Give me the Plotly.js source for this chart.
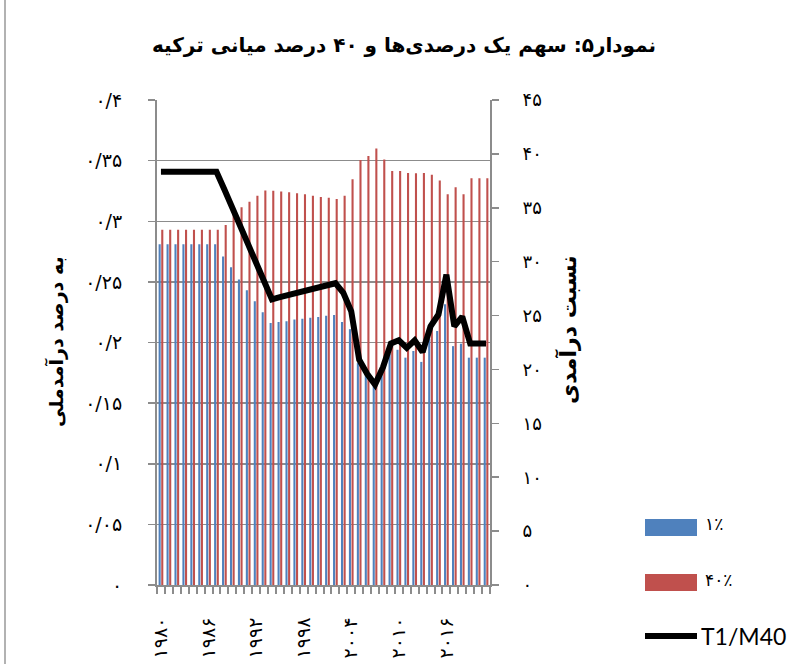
<!DOCTYPE html>
<html>
<head>
<meta charset="utf-8">
<script src="https://cdn.plot.ly/plotly-3.0.1.min.js"></script>
<style>html,body{margin:0;padding:0;background:#fff;}</style>
</head>
<body>
<div id="chart" style="width:793px;height:664px;"></div>
<script>
// Years (categories)
var years = [1980,1981,1982,1983,1984,1985,1986,1987,1988,1989,1990,1991,1992,1993,1994,1995,1996,1997,1998,1999,2000,2001,2002,2003,2004,2005,2006,2007,2008,2009,2010,2011,2012,2013,2014,2015,2016,2017,2018,2019,2020,2021];

// Share of top 1% (left axis)
var top1 = [0.281,0.281,0.281,0.281,0.281,0.281,0.281,0.281,0.271,0.262,0.252,0.243,0.234,0.225,0.216,0.217,0.2175,0.219,0.2196,0.2205,0.221,0.222,0.2227,0.217,0.211,0.183,0.173,0.167,0.177,0.191,0.194,0.1875,0.193,0.184,0.203,0.2095,0.2315,0.197,0.199,0.1875,0.1875,0.1875];

// Share of middle 40% (left axis)
var mid40 = [0.293,0.293,0.293,0.293,0.293,0.293,0.293,0.293,0.297,0.307,0.3115,0.316,0.321,0.3254,0.3252,0.3245,0.324,0.323,0.3222,0.321,0.320,0.3193,0.3184,0.321,0.3346,0.3505,0.3538,0.360,0.351,0.3414,0.3414,0.3398,0.3395,0.3398,0.3384,0.3337,0.3222,0.328,0.3222,0.3354,0.3354,0.3354];

// Ratio T1/M40 (right axis)
var ratio = [38.35,38.35,38.35,38.35,38.35,38.35,38.35,38.35,36.7,35.1,33.3,31.6,29.9,28.2,26.5,26.7,26.9,27.1,27.3,27.5,27.7,27.9,28.0,27.1,25.4,20.9,19.6,18.6,20.2,22.4,22.7,22.0,22.7,21.6,24.0,25.1,28.8,24.0,24.9,22.4,22.4,22.4];

// Tick labels
var xTickVals = [1980,1986,1992,1998,2004,2010,2016];
var xTickText = ['۱۹۸۰','۱۹۸۶','۱۹۹۲','۱۹۹۸','۲۰۰۴','۲۰۱۰','۲۰۱۶'];
var yTickVals = [0,0.05,0.1,0.15,0.2,0.25,0.3,0.35,0.4];
var yTickText = ['۰','۰/۰۵','۰/۱','۰/۱۵','۰/۲','۰/۲۵','۰/۳','۰/۳۵','۰/۴'];
var y2TickVals = [0,5,10,15,20,25,30,35,40,45];
var y2TickText = ['۰','۵','۱۰','۱۵','۲۰','۲۵','۳۰','۳۵','۴۰','۴۵'];

var seriesNames = ['۱٪','۴۰٪','T1/M40'];
var titleText = 'نمودار۵: سهم یک درصدی\u200cها و ۴۰ درصد میانی ترکیه';
var yTitle = 'به درصد درآمدملی';
var y2Title = 'نسبت درآمدی';

var blue = '#4F81BD', red = '#C0504D', grid = '#8c8c8c';
var fa = 'DejaVu Sans';

var traces = [
  {type:'bar', x:years, y:top1, name:seriesNames[0], marker:{color:blue}, showlegend:false, hoverinfo:'none'},
  {type:'bar', x:years, y:mid40, name:seriesNames[1], marker:{color:red}, showlegend:false, hoverinfo:'none'},
  {type:'scatter', mode:'lines', x:years, y:ratio, yaxis:'y2', name:seriesNames[2],
   line:{color:'#000', width:6, shape:'linear'}, showlegend:false, hoverinfo:'none'}
];

// plot area in px: left 157, right 490, top 100, bottom 585
var L=157, R=490, T=100, B=585, W=R-L, H=B-T;
function px(x){return (x-L)/W;}
function py(y){return (B-y)/H;}

var layout = {
  width:793, height:664,
  margin:{l:L, r:793-R, t:T, b:664-B, pad:0},
  paper_bgcolor:'#fff', plot_bgcolor:'#fff',
  barmode:'group', bargap:0.34, bargroupgap:0.2,
  title:{text:'<b>'+titleText+'</b>', x:404/793, xanchor:'center', xref:'container',
         y:1-45/664, yanchor:'middle', yref:'container',
         font:{family:fa, size:20, color:'#000'}},
  xaxis:{range:[1979.5,2021.5], tickvals:xTickVals, ticktext:xTickText, tickangle:-90,
         ticks:'', showline:true, linecolor:grid, linewidth:2, showgrid:false, zeroline:false,
         tickfont:{family:fa, size:19, color:'#000'}, ticklabelstandoff:23,
         minor:{tick0:1979.5, dtick:1, ticks:'outside', ticklen:7, tickcolor:grid, tickwidth:2, showgrid:false}},
  yaxis:{range:[0,0.4], tickvals:yTickVals, ticktext:yTickText, showgrid:true, gridcolor:grid, gridwidth:1.5,
         showline:true, linecolor:grid, linewidth:2, ticks:'outside', ticklen:7, tickcolor:grid, tickwidth:1.5,
         zeroline:false, tickfont:{family:fa, size:19, color:'#000'}, ticklabelstandoff:22},
  yaxis2:{range:[0,45], overlaying:'y', side:'right', tickvals:y2TickVals, ticktext:y2TickText, showgrid:false,
          showline:true, linecolor:grid, linewidth:2, ticks:'outside', ticklen:7, tickcolor:grid, tickwidth:1.5,
          zeroline:false, tickfont:{family:fa, size:18, color:'#000'}, ticklabelstandoff:20},
  shapes:[
    {type:'line', xref:'paper', yref:'paper', x0:(5-L)/W, x1:(5-L)/W, y0:py(0), y1:py(664), line:{color:'#999', width:1.5}},
    {type:'rect', xref:'paper', yref:'paper', x0:px(645), x1:px(697), y0:py(536), y1:py(519), fillcolor:blue, line:{width:0}},
    {type:'rect', xref:'paper', yref:'paper', x0:px(645), x1:px(697), y0:py(591), y1:py(574), fillcolor:red, line:{width:0}},
    {type:'line', xref:'paper', yref:'paper', x0:px(645), x1:px(697), y0:py(636), y1:py(636), line:{color:'#000', width:6}}
  ],
  annotations:[
    {text:'<b>'+yTitle+'</b>', xref:'paper', yref:'paper', x:px(56), y:py(342), xanchor:'center', yanchor:'middle',
     textangle:-90, showarrow:false, font:{family:fa, size:19, color:'#000'}},
    {text:'<b>'+y2Title+'</b>', xref:'paper', yref:'paper', x:px(567), y:py(330), xanchor:'center', yanchor:'middle',
     textangle:-90, showarrow:false, font:{family:fa, size:22, color:'#000'}},
    {text:seriesNames[0], xref:'paper', yref:'paper', x:px(703), y:py(524), xanchor:'left', yanchor:'middle',
     showarrow:false, font:{family:fa, size:17, color:'#000'}},
    {text:seriesNames[1], xref:'paper', yref:'paper', x:px(703), y:py(580), xanchor:'left', yanchor:'middle',
     showarrow:false, font:{family:fa, size:17, color:'#000'}},
    {text:seriesNames[2], xref:'paper', yref:'paper', x:px(699), y:py(636), xanchor:'left', yanchor:'middle',
     showarrow:false, font:{family:'Lato', size:23, color:'#000'}}
  ]
};

Plotly.newPlot('chart', traces, layout, {staticPlot:true, displayModeBar:false});
</script>
</body>
</html>
